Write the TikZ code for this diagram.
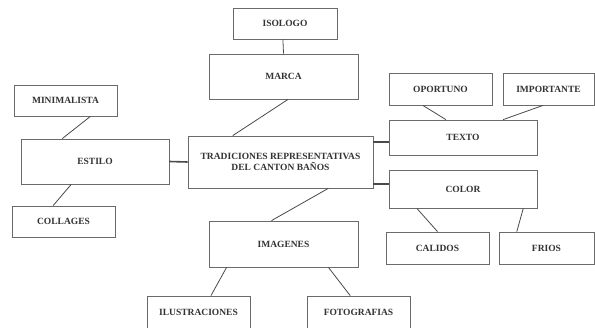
\documentclass[tikz,border=0pt]{standalone}
\usepackage{fontspec}
\setmainfont{Liberation Serif}
\usetikzlibrary{calc}
\definecolor{boxline}{HTML}{6A6A6A}
\definecolor{txt}{HTML}{333333}
\definecolor{conn}{HTML}{4A4A4A}
\begin{document}
\begin{tikzpicture}[x=1pt,y=-1pt,
  box/.style={draw=boxline, line width=0.8pt, rectangle, inner sep=0pt, text=txt,
    font=\fontsize{9.5}{11}\selectfont\bfseries, align=center},
  link/.style={draw=conn, line width=0.8pt},
  boldlink/.style={draw=conn, line width=1.6pt}]
\useasboundingbox[fill=white] (0,0) rectangle (595,327);

\node[box, minimum width=104pt, minimum height=31pt] (iso) at (285,23.5) {ISOLOGO};
\node[box, minimum width=149pt, minimum height=45pt] (marca) at (283.5,76.5) {MARCA};
\node[box, minimum width=103pt, minimum height=31pt] (mini) at (65.5,100.5) {MINIMALISTA};
\node[box, minimum width=148pt, minimum height=45pt] (estilo) at (95,161.5) {ESTILO};
\node[box, minimum width=185pt, minimum height=52pt] (central) at (280.5,162) {TRADICIONES REPRESENTATIVAS\\DEL CANTON BAÑOS};
\node[box, minimum width=103pt, minimum height=32pt] (oport) at (440.5,89) {OPORTUNO};
\node[box, minimum width=91pt, minimum height=32pt] (import) at (548.5,89) {IMPORTANTE};
\node[box, minimum width=148pt, minimum height=35pt] (texto) at (463,137.5) {TEXTO};
\node[box, minimum width=148pt, minimum height=38pt] (color) at (463,189) {COLOR};
\node[box, minimum width=103pt, minimum height=32pt] (calidos) at (437.5,248) {CALIDOS};
\node[box, minimum width=95pt, minimum height=32pt] (frios) at (546.5,248) {FRIOS};
\node[box, minimum width=103pt, minimum height=31pt] (collages) at (63.5,221.5) {COLLAGES};
\node[box, minimum width=149pt, minimum height=46pt] (imagenes) at (283.5,244) {IMAGENES};
\node[box, minimum width=103pt, minimum height=32pt] (ilus) at (198.5,312) {ILUSTRACIONES};
\node[box, minimum width=103pt, minimum height=32pt] (foto) at (358.5,312) {FOTOGRAFIAS};

\coordinate (tx) at ($(texto.north west)!0.63!(texto.south west)$);
\coordinate (cx) at ($(color.north west)!0.37!(color.south west)$);

\draw[link] ($(iso.south west)!0.48!(iso.south east)$) -- ($(marca.north west)!0.5!(marca.north east)$);
\draw[link] ($(marca.south west)!0.53!(marca.south east)$) -- ($(central.north west)!0.243!(central.north east)$);
\draw[link] ($(mini.south west)!0.74!(mini.south east)$) -- ($(estilo.north west)!0.28!(estilo.north east)$);
\draw[boldlink] (estilo.east) -- (central.west);
\draw[link] ($(estilo.south west)!0.34!(estilo.south east)$) -- ($(collages.north west)!0.40!(collages.north east)$);
\draw[boldlink] (central.east |- tx) -- (tx);
\draw[boldlink] (central.east |- cx) -- (cx);
\draw[link] ($(oport.south west)!0.33!(oport.south east)$) -- ($(texto.north west)!0.385!(texto.north east)$);
\draw[link] ($(import.south west)!0.44!(import.south east)$) -- ($(texto.north west)!0.77!(texto.north east)$);
\draw[link] ($(color.south west)!0.19!(color.south east)$) -- ($(calidos.north west)!0.5!(calidos.north east)$);
\draw[link] ($(color.south west)!0.905!(color.south east)$) -- ($(frios.north west)!0.19!(frios.north east)$);
\draw[link] ($(central.south west)!0.757!(central.south east)$) -- ($(imagenes.north west)!0.42!(imagenes.north east)$);
\draw[link] ($(imagenes.south west)!0.12!(imagenes.south east)$) -- ($(ilus.north west)!0.62!(ilus.north east)$);
\draw[link] ($(imagenes.south west)!0.80!(imagenes.south east)$) -- ($(foto.north west)!0.42!(foto.north east)$);
\end{tikzpicture}
\end{document}
